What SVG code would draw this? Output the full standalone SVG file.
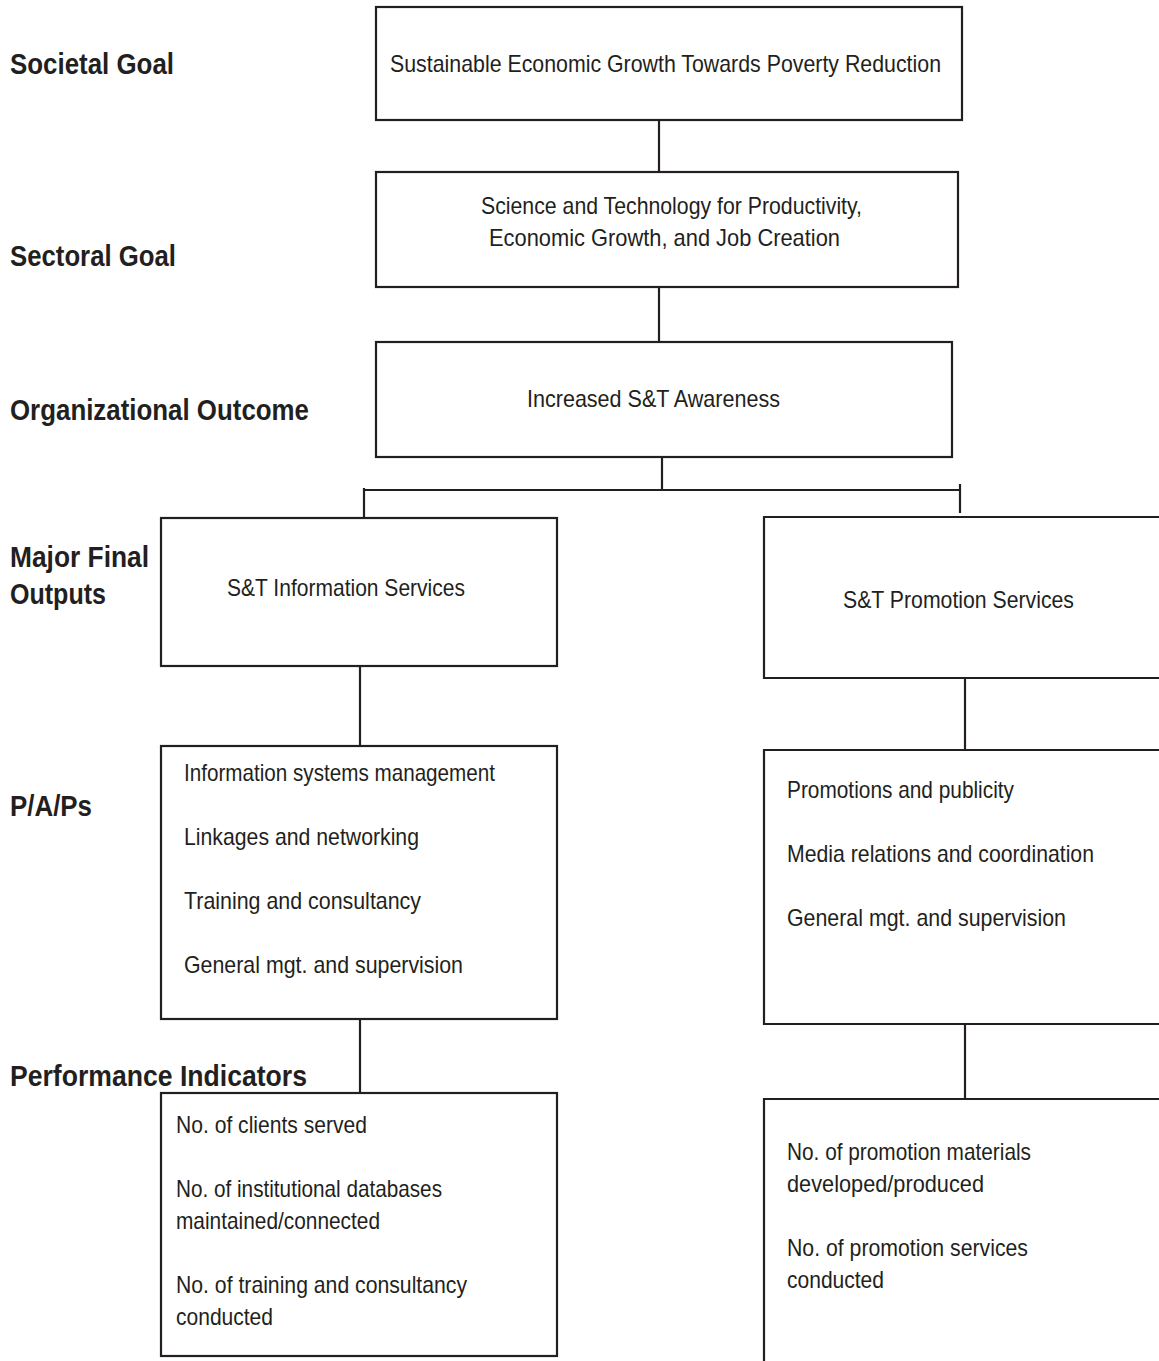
<svg xmlns="http://www.w3.org/2000/svg" width="1159" height="1361" viewBox="0 0 1159 1361">
<style>
.box{fill:#fff;stroke:#231f20;stroke-width:2.2}
.ln{fill:none;stroke:#231f20;stroke-width:2.2}
.lbl{font-family:"Liberation Sans Narrow","Liberation Sans",Arial,sans-serif;font-size:29px;font-weight:bold;fill:#231f20}
.t{font-family:"Liberation Sans Narrow","Liberation Sans",Arial,sans-serif;font-size:24px;fill:#231f20}
</style>
<rect width="1159" height="1361" fill="#fff"/>
<g id="labels">
<text class="lbl" x="10" y="74" textLength="164" lengthAdjust="spacingAndGlyphs">Societal Goal</text>
<text class="lbl" x="10" y="266" textLength="166" lengthAdjust="spacingAndGlyphs">Sectoral Goal</text>
<text class="lbl" x="10" y="420" textLength="299" lengthAdjust="spacingAndGlyphs">Organizational Outcome</text>
<text class="lbl" x="10" y="567" textLength="139" lengthAdjust="spacingAndGlyphs">Major Final</text>
<text class="lbl" x="10" y="604" textLength="96" lengthAdjust="spacingAndGlyphs">Outputs</text>
<text class="lbl" x="10" y="816" textLength="82" lengthAdjust="spacingAndGlyphs">P/A/Ps</text>
<text class="lbl" x="10" y="1086" textLength="297" lengthAdjust="spacingAndGlyphs">Performance  Indicators</text>
</g>
<g id="connectors">
<line class="ln" x1="659" y1="120" x2="659" y2="172"/>
<line class="ln" x1="659" y1="287" x2="659" y2="342"/>
<line class="ln" x1="662" y1="457" x2="662" y2="490"/>
<line class="ln" x1="364" y1="490" x2="960" y2="490"/>
<line class="ln" x1="364" y1="488" x2="364" y2="518"/>
<line class="ln" x1="960" y1="484" x2="960" y2="513"/>
<line class="ln" x1="360" y1="666" x2="360" y2="746"/>
<line class="ln" x1="965" y1="678" x2="965" y2="750"/>
<line class="ln" x1="360" y1="1019" x2="360" y2="1093"/>
<line class="ln" x1="965" y1="1024" x2="965" y2="1099"/>
</g>
<g id="societal">
<rect class="box" x="376" y="7" width="586" height="113"/>
<text class="t" x="390" y="72" textLength="551" lengthAdjust="spacingAndGlyphs">Sustainable Economic Growth Towards Poverty Reduction</text>
</g>
<g id="sectoral">
<rect class="box" x="376" y="172" width="582" height="115"/>
<text class="t" x="481" y="214" textLength="381" lengthAdjust="spacingAndGlyphs">Science and Technology for Productivity,</text>
<text class="t" x="489" y="246" textLength="351" lengthAdjust="spacingAndGlyphs">Economic Growth, and Job Creation</text>
</g>
<g id="outcome">
<rect class="box" x="376" y="342" width="576" height="115"/>
<text class="t" x="527" y="407" textLength="253" lengthAdjust="spacingAndGlyphs">Increased S&amp;T Awareness</text>
</g>
<g id="mfo-info">
<rect class="box" x="161" y="518" width="396" height="148"/>
<text class="t" x="227" y="596" textLength="238" lengthAdjust="spacingAndGlyphs">S&amp;T Information Services</text>
</g>
<g id="mfo-promo">
<path class="ln" d="M1160,517 H764 V678 H1160"/>
<text class="t" x="843" y="608" textLength="231" lengthAdjust="spacingAndGlyphs">S&amp;T Promotion Services</text>
</g>
<g id="pap-info">
<rect class="box" x="161" y="746" width="396" height="273"/>
<text class="t" x="184" y="781" textLength="311" lengthAdjust="spacingAndGlyphs">Information systems management</text>
<text class="t" x="184" y="845" textLength="235" lengthAdjust="spacingAndGlyphs">Linkages and networking</text>
<text class="t" x="184" y="909" textLength="237" lengthAdjust="spacingAndGlyphs">Training and consultancy</text>
<text class="t" x="184" y="973" textLength="279" lengthAdjust="spacingAndGlyphs">General mgt. and supervision</text>
</g>
<g id="pap-promo">
<path class="ln" d="M1160,750 H764 V1024 H1160"/>
<text class="t" x="787" y="798" textLength="227" lengthAdjust="spacingAndGlyphs">Promotions and publicity</text>
<text class="t" x="787" y="862" textLength="307" lengthAdjust="spacingAndGlyphs">Media relations and coordination</text>
<text class="t" x="787" y="926" textLength="279" lengthAdjust="spacingAndGlyphs">General mgt. and supervision</text>
</g>
<g id="pi-info">
<rect class="box" x="161" y="1093" width="396" height="263"/>
<text class="t" x="176" y="1133" textLength="191" lengthAdjust="spacingAndGlyphs">No. of clients served</text>
<text class="t" x="176" y="1197" textLength="266" lengthAdjust="spacingAndGlyphs">No. of institutional databases</text>
<text class="t" x="176" y="1229" textLength="204" lengthAdjust="spacingAndGlyphs">maintained/connected</text>
<text class="t" x="176" y="1293" textLength="291" lengthAdjust="spacingAndGlyphs">No. of training and consultancy</text>
<text class="t" x="176" y="1325" textLength="97" lengthAdjust="spacingAndGlyphs">conducted</text>
</g>
<g id="pi-promo">
<path class="ln" d="M1160,1099 H764 V1362"/>
<text class="t" x="787" y="1160" textLength="244" lengthAdjust="spacingAndGlyphs">No. of promotion materials</text>
<text class="t" x="787" y="1192" textLength="197" lengthAdjust="spacingAndGlyphs">developed/produced</text>
<text class="t" x="787" y="1256" textLength="241" lengthAdjust="spacingAndGlyphs">No. of promotion services</text>
<text class="t" x="787" y="1288" textLength="97" lengthAdjust="spacingAndGlyphs">conducted</text>
</g>
</svg>
